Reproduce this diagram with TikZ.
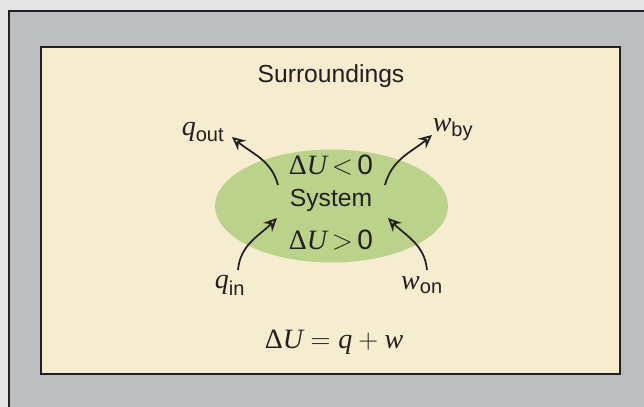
\documentclass[tikz,border=0pt]{standalone}
\usepackage{fontspec}
\setmainfont{Liberation Sans}
\newfontfamily\termfont{Liberation Serif}
\usepackage{tikz}
\usetikzlibrary{arrows.meta,positioning,shapes.geometric}
\definecolor{frameGray}{RGB}{188,189,193}
\definecolor{edgeDark}{RGB}{35,31,32}
\definecolor{surrCream}{RGB}{246,236,208}
\definecolor{sysGreen}{RGB}{187,210,139}
\definecolor{inkDark}{RGB}{35,31,32}
\newcommand{\mvar}[1]{\hbox{\termfont\itshape #1}}
\newcommand{\dU}{\hbox{\termfont Δ\itshape U}}
\newcommand{\sub}[1]{\hbox{\fontsize{15}{17}\selectfont #1}}
\tikzset{
  system node/.style={ellipse,fill=sysGreen,minimum width=174.75pt,minimum height=84.75pt,inner sep=0pt},
  label text/.style={text=inkDark,font=\fontsize{18.5}{21}\selectfont,inner sep=0pt},
  math text/.style={text=inkDark,font=\fontsize{21}{24}\selectfont,inner sep=0pt},
  flow arrow/.style={-{Stealth[open,length=10pt,width=9.5pt,inset=3.5pt]},line width=1.3pt,draw=inkDark}
}
\begin{document}
\begin{tikzpicture}[x=.75pt,y=.75pt]
        \useasboundingbox (0,0) rectangle (644,407);
        \fill[white!90!black] (0,0) rectangle (644,407);
        \fill[frameGray] (9,0) rectangle (644,396);
        \draw[edgeDark,line width=2.2pt] (644,396) -- (9,396) -- (9,0);
        \draw[edgeDark,fill=surrCream,line width=2.2pt] (41,360) rectangle (620,33);
        \node[system node] (system) at (331.5,201) {};
        \node[label text] (surr) at (331,331) {Surroundings};
        \node[label text] (sysname) at (331,207) {System};
        \node[math text] (dUneg) at (331,242) {$\dU\,{<}\,\hbox{0}$};
        \node[math text] (dUpos) at (331,167) {$\dU\,{>}\,\hbox{0}$};
        \node[math text] (qout) at (203,275) {$\mvar{q}_{\sub{out}}$};
        \node[math text] (wby) at (453,277) {$\mvar{w}_{\sub{by}}$};
        \node[math text] (qin) at (230,122) {$\mvar{q}_{\sub{in}}$};
        \node[math text] (won) at (422,122) {$\mvar{w}_{\sub{on}}$};
        \node[math text] (firstlaw) at (334,65) {$\dU = \mvar{q} + \mvar{w}$};
        % arrows leaving and entering the system
        \coordinate (qoutS) at (278,222);
        \coordinate (qoutE) at (232,270);
        \coordinate (wbyS) at (385,222);
        \coordinate (wbyE) at (432,272);
        \coordinate (qinS) at (238,137);
        \coordinate (qinE) at (277,189);
        \coordinate (wonS) at (427,137);
        \coordinate (wonE) at (388,189);
        \draw[flow arrow] (qoutS) to[out=105,in=-40] (qoutE);
        \draw[flow arrow] (wbyS) to[out=75,in=-140] (wbyE);
        \draw[flow arrow] (qinS) to[out=85,in=-135] (qinE);
        \draw[flow arrow] (wonS) to[out=95,in=-45] (wonE);
      \end{tikzpicture}
\end{document}
